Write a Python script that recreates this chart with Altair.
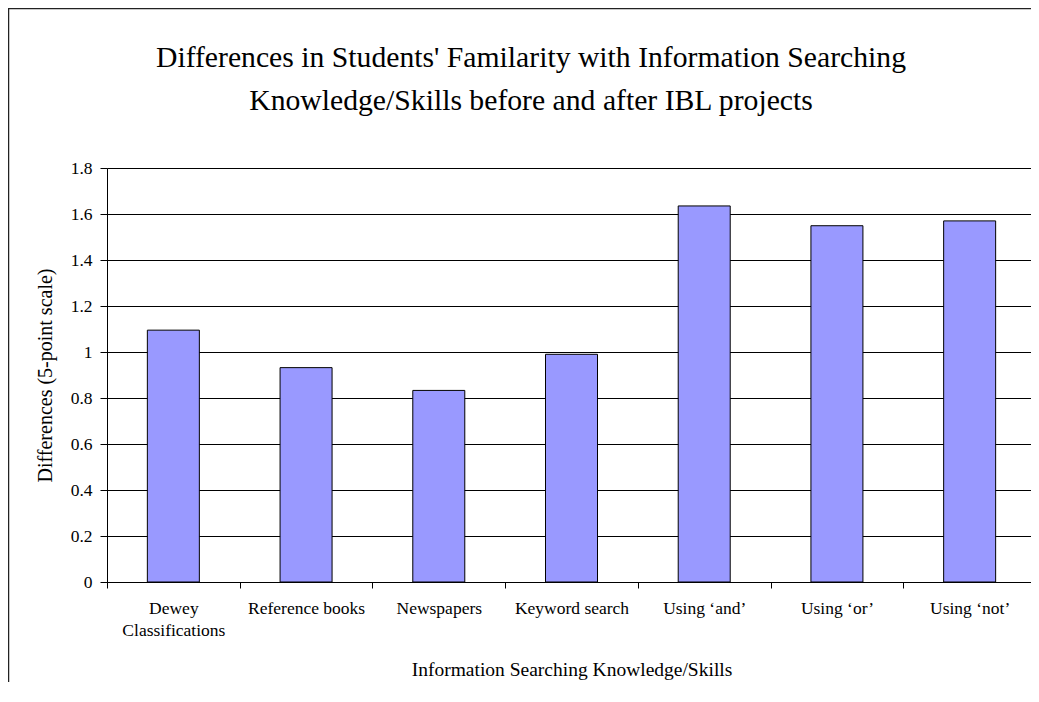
import altair as alt
import pandas as pd

categories = ["Dewey Classifications", "Reference books", "Newspapers", "Keyword search",
              "Using \u2018and\u2019", "Using \u2018or\u2019", "Using \u2018not\u2019"]
values = [1.095, 0.932, 0.833, 0.99, 1.635, 1.549, 1.570]
y_ticks = [0, 0.2, 0.4, 0.6, 0.8, 1.0, 1.2, 1.4, 1.6, 1.8]

title_lines = ["Differences in Students' Familarity with Information Searching",
               "Knowledge/Skills before and after IBL projects"]

df = pd.DataFrame({"cat": categories, "val": values})
FONT = "Liberation Serif"

base = alt.Chart(df)
deco = alt.Chart(pd.DataFrame({"k": [0]}))

bars = base.mark_bar(size=52, color="#9999FF", stroke="#000000", strokeWidth=1).encode(
    x=alt.X("cat:N", sort=categories,
            scale=alt.Scale(paddingInner=0, paddingOuter=0),
            axis=alt.Axis(title="Information Searching Knowledge/Skills",
                          labelAngle=0, tickBand="extent", tickSize=6, tickColor="#000000",
                          domainColor="#000000", labelFont=FONT, labelFontSize=17.5,
                          labelColor="#000000", labelPadding=11, labelLineHeight=22,
                          labelExpr="datum.label == 'Dewey Classifications' ? ['Dewey', 'Classifications'] : datum.label",
                          titleFont=FONT, titleFontSize=19.5, titleFontWeight="normal",
                          titleColor="#000000", titleY=93, titleBaseline="alphabetic",
                          grid=False)),
    y=alt.Y("val:Q",
            scale=alt.Scale(domain=[0, 1.8], nice=False, zero=True),
            axis=alt.Axis(title="Differences (5-point scale)", values=y_ticks, format=".1~f",
                          tickSize=7, tickColor="#000000", domainColor="#000000",
                          labelFont=FONT, labelFontSize=17.5, labelColor="#000000",
                          labelPadding=8, gridColor="#000000", gridWidth=1, gridOpacity=1,
                          titleFont=FONT, titleFontSize=20, titleFontWeight="normal",
                          titleColor="#000000", titleX=-62, titleY=207,
                          titleBaseline="middle", titleAngle=270, titleAlign="center")),
)

title1 = deco.mark_text(text=title_lines[0], font=FONT, fontSize=29.7, color="#000000",
                        align="center", baseline="alphabetic").encode(
    x=alt.value(424), y=alt.value(-101))
title2 = deco.mark_text(text=title_lines[1], font=FONT, fontSize=29.7, color="#000000",
                        align="center", baseline="alphabetic").encode(
    x=alt.value(424), y=alt.value(-58))

frame_left = deco.mark_rule(color="#222222", strokeWidth=1.5).encode(
    x=alt.value(-98.5), y=alt.value(-160), y2=alt.value(540))
frame_top = deco.mark_rule(color="#222222", strokeWidth=1.5).encode(
    x=alt.value(-99), x2=alt.value(1000), y=alt.value(-159.5))

chart = alt.layer(bars, title1, title2, frame_left, frame_top).properties(
    width=929, height=414,
    autosize=alt.AutoSizeParams(type="none"),
    padding={"left": 99, "top": 160, "right": -5, "bottom": 100},
).configure_view(fill="#C0C0C0", stroke="#808080", strokeWidth=1
).configure(background="#FFFFFF")

chart.save("out.html", embed_options={"renderer": "svg", "actions": False})
